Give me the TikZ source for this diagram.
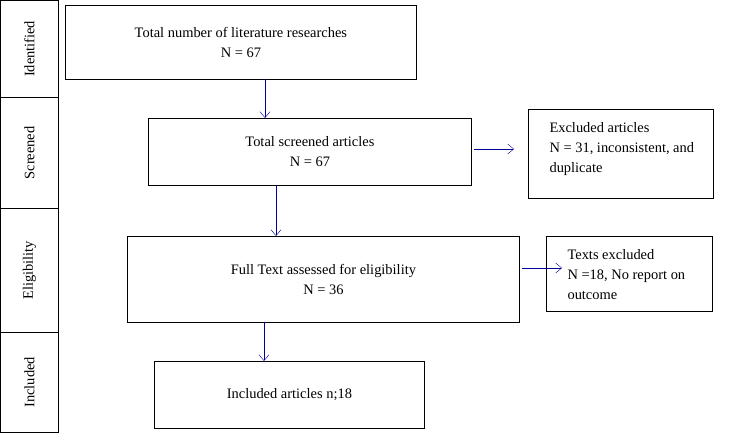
\documentclass[tikz,border=0pt]{standalone}
\usepackage{fontspec}
\setmainfont{Liberation Serif}
\usetikzlibrary{arrows.meta, positioning}
\tikzset{
  box/.style={draw, thick, align=center, inner sep=0pt},
  sidebox/.style={draw, thick, align=left, inner sep=0pt},
  stage/.style={draw, thick, inner sep=0pt},
  flow/.style={draw=blue!60!black, -{Straight Barb[length=6pt,width=10pt]}},
}
\begin{document}
\begin{tikzpicture}[x=1bp, y=-1bp, font=\fontsize{14.5}{20}\selectfont]
  \useasboundingbox (0,0) rectangle (739,432);
  % stage column
  \node[stage, minimum width=58bp, minimum height=97bp, anchor=north west] (sid) at (0,0) {};
  \node[stage, minimum width=58bp, minimum height=111bp, anchor=north west] (sscr) at (0,97) {};
  \node[stage, minimum width=58bp, minimum height=124bp, anchor=north west] (selig) at (0,208) {};
  \node[stage, minimum width=58bp, minimum height=100bp, anchor=north west] (sincl) at (0,332) {};
  \foreach \s/\t in {sid/Identified, sscr/Screened, selig/Eligibility, sincl/Included}
    \node[rotate=90] at (\s) {\t};
  % main boxes
  \node[box, minimum width=351bp, minimum height=74bp, anchor=north west] (ident) at (65,5)
    {Total number of literature researches\\N = 67};
  \node[box, minimum width=323bp, minimum height=67bp, anchor=north west] (screen) at (148,118)
    {Total screened articles\\N = 67};
  \node[box, minimum width=392bp, minimum height=86bp, anchor=north west] (elig) at (127,236)
    {Full Text assessed for eligibility\\N = 36};
  \node[box, minimum width=270bp, minimum height=67bp, anchor=north west] (incl) at (154,361)
    {Included articles n;18};
  % exclusion boxes
  \node[sidebox, minimum width=185bp, minimum height=89bp, anchor=north west] (excl) at (528,109) {};
  \node[anchor=north west, align=left] at ([shift={(18,10)}]excl.north west)
    {Excluded articles\\N = 31, inconsistent, and\\duplicate};
  \node[sidebox, minimum width=166bp, minimum height=75bp, anchor=north west] (texcl) at (546,236) {};
  \node[anchor=north west, align=left] at ([shift={(18,10)}]texcl.north west)
    {Texts excluded\\N =18, No report on\\outcome};
  % connectors
  \coordinate (a1) at (265,79);
  \coordinate (a2) at (276,185);
  \coordinate (a3) at (264,322);
  \draw[flow] (a1) -- (a1 |- screen.north);
  \draw[flow] (a2) -- (a2 |- elig.north);
  \draw[flow] (a3) -- (a3 |- incl.north);
  \coordinate (h1) at (474,149);
  \coordinate (h2) at (522,268);
  \draw[flow] (h1) -- ++(40,0);
  \draw[flow] (h2) -- ++(40,0);
\end{tikzpicture}
\end{document}
